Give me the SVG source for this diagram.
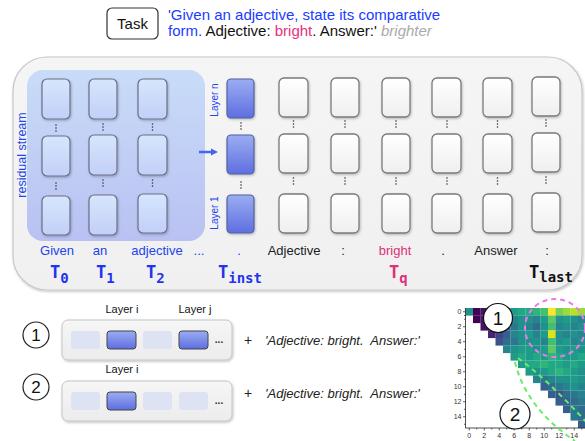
<svg xmlns="http://www.w3.org/2000/svg" width="585" height="441" viewBox="0 0 585 441">
<defs>
<style>
text{font-family:"Liberation Sans",Arial,sans-serif}
.tok{font-size:13px;text-anchor:middle}
.blue{fill:#2244ee}
.pink{fill:#e0307a}
.dark{fill:#222}
.tl{font-family:"DejaVu Sans Mono",monospace;font-weight:bold;font-size:17px}
.sub{font-size:14px}
.lc{fill:url(#gLight);stroke:#6a7088;stroke-width:1.2}
.ic{fill:url(#gInst);stroke:#5560a0;stroke-width:1.2}
.wc{fill:url(#gWhite);stroke:#7a7a7a;stroke-width:1.3}
.sq{fill:#dde3f3}
.sqd{fill:url(#gInst);stroke:#444;stroke-width:1}
.strip{fill:url(#gStrip);stroke:#c4c4c4;stroke-width:1}
.hm rect{width:7.6px;height:7.6px}
.h0{fill:#440154}.h1{fill:#471365}.h2{fill:#482475}.h3{fill:#463480}.h4{fill:#414487}.h5{fill:#3b528b}.h6{fill:#355f8d}.h7{fill:#2f6c8e}.h8{fill:#2a788e}.h9{fill:#25848e}.h10{fill:#21918c}.h11{fill:#1e9c89}.h12{fill:#22a884}.h13{fill:#2fb47c}.h14{fill:#44bf70}.h15{fill:#5ec962}.h16{fill:#7ad151}.h17{fill:#9bd93c}.h18{fill:#bddf26}.h19{fill:#dfe318}.h20{fill:#fde725}
.tick{stroke:#222;stroke-width:0.7}
.tkl{font-size:7px;fill:#333}
</style>
<linearGradient id="gRes" x1="0" y1="0" x2="0" y2="1"><stop offset="0" stop-color="#c8dcf8"/><stop offset="1" stop-color="#b9c1f2"/></linearGradient>
<linearGradient id="gLight" x1="0" y1="0" x2="0" y2="1"><stop offset="0" stop-color="#d6e6fd"/><stop offset="1" stop-color="#c3cff8"/></linearGradient>
<linearGradient id="gInst" x1="0" y1="0" x2="0" y2="1"><stop offset="0" stop-color="#9badf2"/><stop offset="1" stop-color="#5e6ee0"/></linearGradient>
<linearGradient id="gWhite" x1="0" y1="0" x2="0" y2="1"><stop offset="0" stop-color="#ffffff"/><stop offset="1" stop-color="#efefef"/></linearGradient>
<linearGradient id="gPanel" x1="0" y1="0" x2="0" y2="1"><stop offset="0" stop-color="#f5f5f5"/><stop offset="1" stop-color="#f0f0f0"/></linearGradient>
<linearGradient id="gStrip" x1="0" y1="0" x2="0" y2="1"><stop offset="0" stop-color="#f6f6f6"/><stop offset="1" stop-color="#ececec"/></linearGradient>
<filter id="sh" x="-20%" y="-20%" width="150%" height="150%"><feDropShadow dx="0.8" dy="1.2" stdDeviation="0.9" flood-color="#000" flood-opacity="0.25"/></filter>
<g id="vd"><circle cx="0" cy="-3" r="0.8" fill="#333"/><circle cx="0" cy="0" r="0.8" fill="#333"/><circle cx="0" cy="3" r="0.8" fill="#333"/></g>
<marker id="arr" viewBox="0 0 10 10" refX="2" refY="5" markerWidth="3" markerHeight="3" orient="auto" markerUnits="strokeWidth"><path d="M0,0 L10,5 L0,10 z" fill="#4466ee"/></marker>
</defs>
<rect width="585" height="441" fill="#ffffff"/>

<g id="task">
<rect x="107" y="8" width="51" height="31" rx="5" fill="#fff" stroke="#333" stroke-width="1.2"/>
<text x="132.5" y="29" font-size="15" text-anchor="middle" fill="#111">Task</text>
<text x="168" y="20" font-size="15" fill="#1a3cff">'Given an adjective, state its comparative</text>
<text x="168" y="36" font-size="15"><tspan fill="#1a3cff">form.</tspan><tspan fill="#111"> Adjective: </tspan><tspan fill="#e8307a">bright</tspan><tspan fill="#111">. Answer:'</tspan><tspan fill="#aaaaaa" font-style="italic"> brighter</tspan></text>
</g>

<g id="panel">
<rect x="13" y="57" width="569" height="233" rx="34" fill="url(#gPanel)" stroke="#c8c8c8" stroke-width="1.2" filter="url(#sh)"/>
</g>

<g id="residual-stream">
<rect x="27" y="70" width="178" height="171" rx="16" fill="url(#gRes)"/>
<text transform="translate(25.5,155) rotate(-90)" font-size="12.5" text-anchor="middle" fill="#2244ee">residual stream</text>
</g>

<g id="col-T0" filter="url(#sh)">
<rect class="lc" x="42" y="79" width="28" height="40" rx="5"/>
<rect class="lc" x="42" y="136" width="28" height="40" rx="5"/>
<rect class="lc" x="42" y="196" width="28" height="39" rx="5"/>
</g>
<g id="col-T1" filter="url(#sh)">
<rect class="lc" x="89" y="79" width="28" height="40" rx="5"/>
<rect class="lc" x="89" y="135" width="28" height="40" rx="5"/>
<rect class="lc" x="89" y="195" width="28" height="40" rx="5"/>
</g>
<g id="col-T2" filter="url(#sh)">
<rect class="lc" x="138" y="79" width="29" height="40" rx="5"/>
<rect class="lc" x="138" y="135" width="29" height="40" rx="5"/>
<rect class="lc" x="138" y="194" width="29" height="39" rx="5"/>
</g>
<g id="dots-left">
<use href="#vd" x="56" y="128"/><use href="#vd" x="56" y="186"/>
<use href="#vd" x="103" y="127"/><use href="#vd" x="103" y="183"/>
<use href="#vd" x="152.5" y="127"/><use href="#vd" x="152.5" y="183"/>
</g>

<g id="layer-labels" font-size="10" fill="#2244ee">
<text transform="translate(218,100) rotate(-90)" text-anchor="middle">Layer n</text>
<text transform="translate(218,213) rotate(-90)" text-anchor="middle">Layer 1</text>
</g>

<g id="col-Tinst" filter="url(#sh)">
<rect class="ic" x="227" y="79" width="27" height="39" rx="4"/>
<rect class="ic" x="227" y="135" width="27" height="39" rx="4"/>
<rect class="ic" x="227" y="195" width="27" height="38" rx="4"/>
</g>
<g id="dots-inst"><use href="#vd" x="241" y="126"/><use href="#vd" x="241" y="185"/></g>

<g id="col-adjective" filter="url(#sh)">
<rect class="wc" x="279" y="78" width="29" height="39" rx="5"/>
<rect class="wc" x="279" y="134" width="29" height="39" rx="5"/>
<rect class="wc" x="279" y="194" width="29" height="39" rx="5"/>
</g>
<g id="col-colon1" filter="url(#sh)">
<rect class="wc" x="331" y="78" width="28" height="39" rx="5"/>
<rect class="wc" x="331" y="134" width="28" height="39" rx="5"/>
<rect class="wc" x="331" y="194" width="28" height="39" rx="5"/>
</g>
<g id="col-Tq" filter="url(#sh)">
<rect class="wc" x="382" y="78" width="28" height="39" rx="5"/>
<rect class="wc" x="382" y="134" width="28" height="39" rx="5"/>
<rect class="wc" x="382" y="194" width="28" height="39" rx="5"/>
</g>
<g id="col-period" filter="url(#sh)">
<rect class="wc" x="432" y="78" width="29" height="39" rx="5"/>
<rect class="wc" x="432" y="134" width="29" height="39" rx="5"/>
<rect class="wc" x="432" y="194" width="29" height="39" rx="5"/>
</g>
<g id="col-answer" filter="url(#sh)">
<rect class="wc" x="483" y="78" width="29" height="39" rx="5"/>
<rect class="wc" x="483" y="134" width="29" height="39" rx="5"/>
<rect class="wc" x="483" y="194" width="29" height="39" rx="5"/>
</g>
<g id="col-Tlast" filter="url(#sh)">
<rect class="wc" x="532" y="77" width="28" height="39" rx="5"/>
<rect class="wc" x="532" y="133" width="28" height="39" rx="5"/>
<rect class="wc" x="532" y="193" width="28" height="39" rx="5"/>
</g>
<g id="dots-white">
<use href="#vd" x="293.5" y="124"/><use href="#vd" x="293.5" y="181"/>
<use href="#vd" x="345" y="124"/><use href="#vd" x="345" y="181"/>
<use href="#vd" x="396" y="124"/><use href="#vd" x="396" y="181"/>
<use href="#vd" x="447" y="124"/><use href="#vd" x="447" y="181"/>
<use href="#vd" x="497.5" y="124"/><use href="#vd" x="497.5" y="181"/>
<use href="#vd" x="546" y="123"/><use href="#vd" x="546" y="180"/>
</g>

<g id="connectors">
<line x1="199" y1="152" x2="212" y2="152" stroke="#4466ee" stroke-width="2.5" marker-end="url(#arr)"/>
</g>

<g id="token-labels">
<text class="tok blue" x="57" y="255">Given</text>
<text class="tok blue" x="100" y="255">an</text>
<text class="tok blue" x="157" y="255">adjective</text>
<text class="tok blue" x="199" y="255">...</text>
<text class="tok blue" x="239" y="255">.</text>
<text class="tok dark" x="294" y="255">Adjective</text>
<text class="tok dark" x="343" y="255">:</text>
<text class="tok pink" x="395" y="255">bright</text>
<text class="tok dark" x="443" y="255">.</text>
<text class="tok dark" x="496" y="255">Answer</text>
<text class="tok dark" x="547" y="255">:</text>
</g>

<g id="T-labels">
<text class="tl" x="50" y="278" fill="#2233ee">T<tspan class="sub" dy="5">0</tspan></text>
<text class="tl" x="96" y="278" fill="#2233ee">T<tspan class="sub" dy="5">1</tspan></text>
<text class="tl" x="146" y="278" fill="#2233ee">T<tspan class="sub" dy="5">2</tspan></text>
<text class="tl" x="218" y="278" fill="#2233ee">T<tspan class="sub" dy="5">inst</tspan></text>
<text class="tl" x="389" y="278" fill="#e0307a">T<tspan class="sub" dy="5">q</tspan></text>
<text class="tl" x="529" y="277.5" fill="#111">T<tspan class="sub" dy="4.5">last</tspan></text>
</g>

<g id="variant-1">
<circle cx="36" cy="335" r="13" fill="#fff" stroke="#222" stroke-width="1.2"/>
<text x="36" y="341" font-size="17" text-anchor="middle" fill="#111">1</text>
<text x="122" y="313" font-size="11" text-anchor="middle" fill="#111">Layer i</text>
<text x="195" y="313" font-size="11" text-anchor="middle" fill="#111">Layer j</text>
<rect class="strip" x="62" y="320" width="170" height="40" rx="6" filter="url(#sh)"/>
<rect class="sq" x="71" y="331" width="29" height="18" rx="3"/>
<rect class="sqd" x="107" y="331" width="29" height="18" rx="3"/>
<rect class="sq" x="143" y="331" width="29" height="18" rx="3"/>
<rect class="sqd" x="179" y="331" width="29" height="18" rx="3"/>
<text x="219" y="343" font-size="10" font-weight="bold" text-anchor="middle" fill="#333">...</text>
<text x="248" y="345" font-size="14" text-anchor="middle" fill="#222">+</text>
<text x="265" y="345" font-size="13" font-style="italic" fill="#222" xml:space="preserve">'Adjective: bright.  Answer:'</text>
</g>

<g id="variant-2">
<circle cx="36" cy="387" r="13" fill="#fff" stroke="#222" stroke-width="1.2"/>
<text x="36" y="393" font-size="17" text-anchor="middle" fill="#111">2</text>
<text x="122" y="373" font-size="11" text-anchor="middle" fill="#111">Layer i</text>
<rect class="strip" x="62" y="381" width="170" height="40" rx="6" filter="url(#sh)"/>
<rect class="sq" x="71" y="392" width="29" height="18" rx="3"/>
<rect class="sqd" x="107" y="392" width="29" height="18" rx="3"/>
<rect class="sq" x="143" y="392" width="29" height="18" rx="3"/>
<rect class="sq" x="179" y="392" width="29" height="18" rx="3"/>
<text x="219" y="404" font-size="10" font-weight="bold" text-anchor="middle" fill="#333">...</text>
<text x="248" y="398" font-size="14" text-anchor="middle" fill="#222">+</text>
<text x="265" y="398" font-size="13" font-style="italic" fill="#222" xml:space="preserve">'Adjective: bright.  Answer:'</text>
</g>

<g id="heatmap">
<g class="hm">
<rect class="h10" x="465.5" y="308"/><rect class="h0" x="473" y="308"/><rect class="h1" x="480.5" y="308"/><rect class="h2" x="488" y="308"/><rect class="h4" x="495.5" y="308"/><rect class="h8" x="503" y="308"/><rect class="h11" x="510.5" y="308"/><rect class="h12" x="518" y="308"/><rect class="h12" x="525.5" y="308"/><rect class="h13" x="533" y="308"/><rect class="h14" x="540.5" y="308"/><rect class="h20" x="548" y="308"/><rect class="h16" x="555.5" y="308"/><rect class="h17" x="563" y="308"/><rect class="h18" x="570.5" y="308"/><rect class="h17" x="578" y="308"/>
<rect class="h0" x="473" y="315.5"/><rect class="h1" x="480.5" y="315.5"/><rect class="h2" x="488" y="315.5"/><rect class="h3" x="495.5" y="315.5"/><rect class="h6" x="503" y="315.5"/><rect class="h9" x="510.5" y="315.5"/><rect class="h10" x="518" y="315.5"/><rect class="h10" x="525.5" y="315.5"/><rect class="h9" x="533" y="315.5"/><rect class="h11" x="540.5" y="315.5"/><rect class="h15" x="548" y="315.5"/><rect class="h10" x="555.5" y="315.5"/><rect class="h11" x="563" y="315.5"/><rect class="h10" x="570.5" y="315.5"/><rect class="h9" x="578" y="315.5"/>
<rect class="h1" x="480.5" y="323"/><rect class="h2" x="488" y="323"/><rect class="h3" x="495.5" y="323"/><rect class="h6" x="503" y="323"/><rect class="h8" x="510.5" y="323"/><rect class="h10" x="518" y="323"/><rect class="h9" x="525.5" y="323"/><rect class="h7" x="533" y="323"/><rect class="h10" x="540.5" y="323"/><rect class="h14" x="548" y="323"/><rect class="h9" x="555.5" y="323"/><rect class="h10" x="563" y="323"/><rect class="h9" x="570.5" y="323"/><rect class="h10" x="578" y="323"/>
<rect class="h2" x="488" y="330.5"/><rect class="h4" x="495.5" y="330.5"/><rect class="h6" x="503" y="330.5"/><rect class="h9" x="510.5" y="330.5"/><rect class="h10" x="518" y="330.5"/><rect class="h11" x="525.5" y="330.5"/><rect class="h9" x="533" y="330.5"/><rect class="h11" x="540.5" y="330.5"/><rect class="h19" x="548" y="330.5"/><rect class="h10" x="555.5" y="330.5"/><rect class="h9" x="563" y="330.5"/><rect class="h10" x="570.5" y="330.5"/><rect class="h9" x="578" y="330.5"/>
<rect class="h5" x="495.5" y="338"/><rect class="h7" x="503" y="338"/><rect class="h8" x="510.5" y="338"/><rect class="h10" x="518" y="338"/><rect class="h10" x="525.5" y="338"/><rect class="h10" x="533" y="338"/><rect class="h9" x="540.5" y="338"/><rect class="h14" x="548" y="338"/><rect class="h10" x="555.5" y="338"/><rect class="h11" x="563" y="338"/><rect class="h9" x="570.5" y="338"/><rect class="h10" x="578" y="338"/>
<rect class="h9" x="503" y="345.5"/><rect class="h10" x="510.5" y="345.5"/><rect class="h11" x="518" y="345.5"/><rect class="h11" x="525.5" y="345.5"/><rect class="h10" x="533" y="345.5"/><rect class="h11" x="540.5" y="345.5"/><rect class="h15" x="548" y="345.5"/><rect class="h11" x="555.5" y="345.5"/><rect class="h10" x="563" y="345.5"/><rect class="h11" x="570.5" y="345.5"/><rect class="h10" x="578" y="345.5"/>
<rect class="h11" x="510.5" y="353"/><rect class="h12" x="518" y="353"/><rect class="h11" x="525.5" y="353"/><rect class="h12" x="533" y="353"/><rect class="h11" x="540.5" y="353"/><rect class="h13" x="548" y="353"/><rect class="h12" x="555.5" y="353"/><rect class="h11" x="563" y="353"/><rect class="h11" x="570.5" y="353"/><rect class="h12" x="578" y="353"/>
<rect class="h11" x="518" y="360.5"/><rect class="h12" x="525.5" y="360.5"/><rect class="h12" x="533" y="360.5"/><rect class="h13" x="540.5" y="360.5"/><rect class="h12" x="548" y="360.5"/><rect class="h12" x="555.5" y="360.5"/><rect class="h11" x="563" y="360.5"/><rect class="h12" x="570.5" y="360.5"/><rect class="h11" x="578" y="360.5"/>
<rect class="h11" x="525.5" y="368"/><rect class="h10" x="533" y="368"/><rect class="h11" x="540.5" y="368"/><rect class="h12" x="548" y="368"/><rect class="h13" x="555.5" y="368"/><rect class="h12" x="563" y="368"/><rect class="h11" x="570.5" y="368"/><rect class="h10" x="578" y="368"/>
<rect class="h9" x="533" y="375.5"/><rect class="h8" x="540.5" y="375.5"/><rect class="h9" x="548" y="375.5"/><rect class="h10" x="555.5" y="375.5"/><rect class="h10" x="563" y="375.5"/><rect class="h11" x="570.5" y="375.5"/><rect class="h10" x="578" y="375.5"/>
<rect class="h6" x="540.5" y="383"/><rect class="h7" x="548" y="383"/><rect class="h8" x="555.5" y="383"/><rect class="h9" x="563" y="383"/><rect class="h10" x="570.5" y="383"/><rect class="h9" x="578" y="383"/>
<rect class="h6" x="548" y="390.5"/><rect class="h5" x="555.5" y="390.5"/><rect class="h7" x="563" y="390.5"/><rect class="h8" x="570.5" y="390.5"/><rect class="h9" x="578" y="390.5"/>
<rect class="h6" x="555.5" y="398"/><rect class="h6" x="563" y="398"/><rect class="h7" x="570.5" y="398"/><rect class="h8" x="578" y="398"/>
<rect class="h6" x="563" y="405.5"/><rect class="h8" x="570.5" y="405.5"/><rect class="h7" x="578" y="405.5"/>
<rect class="h8" x="570.5" y="413"/><rect class="h7" x="578" y="413"/>
<rect class="h6" x="578" y="420.5"/>
</g>
<path d="M465.5,308 V428 H585" fill="none" stroke="#222" stroke-width="0.8"/>
<path class="tick" d="M463,311.75h2.5M464,315.5h1.5M463,326.75h2.5M463,341.75h2.5M463,356.75h2.5M463,371.75h2.5M463,386.75h2.5M463,401.75h2.5M463,416.75h2.5M464,319.25h1.5M464,334.25h1.5M464,349.25h1.5M464,364.25h1.5M464,379.25h1.5M464,394.25h1.5M464,409.25h1.5M464,424.25h1.5"/>
<path class="tick" d="M469.25,428v2.5M484.25,428v2.5M499.25,428v2.5M514.25,428v2.5M529.25,428v2.5M544.25,428v2.5M559.25,428v2.5M574.25,428v2.5M476.75,428v1.5M491.75,428v1.5M506.75,428v1.5M521.75,428v1.5M536.75,428v1.5M551.75,428v1.5M566.75,428v1.5M581.75,428v1.5"/>
<g class="tkl" text-anchor="end">
<text x="461.5" y="314.2">0</text><text x="461.5" y="329.2">2</text><text x="461.5" y="344.2">4</text><text x="461.5" y="359.2">6</text><text x="461.5" y="374.2">8</text><text x="461.5" y="389.2">10</text><text x="461.5" y="404.2">12</text><text x="461.5" y="419.2">14</text>
</g>
<g class="tkl" text-anchor="middle">
<text x="469.25" y="438">0</text><text x="484.25" y="438">2</text><text x="499.25" y="438">4</text><text x="514.25" y="438">6</text><text x="529.25" y="438">8</text><text x="544.25" y="438">10</text><text x="559.25" y="438">12</text><text x="574.25" y="438">14</text>
</g>
<ellipse cx="555" cy="328" rx="30" ry="29" fill="none" stroke="#ee77ee" stroke-width="2" stroke-dasharray="5 4"/>
<path d="M518,358 Q548,380 588,424" fill="none" stroke="#66ee66" stroke-width="2" stroke-dasharray="5 4"/>
<path d="M515,362 Q526,408 575,441" fill="none" stroke="#66ee66" stroke-width="2" stroke-dasharray="5 4"/>
<circle cx="498" cy="318" r="14.5" fill="#fff" stroke="#111" stroke-width="1.2"/>
<text x="498" y="325" font-size="19" text-anchor="middle" fill="#111">1</text>
<circle cx="515" cy="414" r="15" fill="#fff" stroke="#111" stroke-width="1.2"/>
<text x="515" y="421" font-size="19" text-anchor="middle" fill="#111">2</text>
</g>
</svg>
